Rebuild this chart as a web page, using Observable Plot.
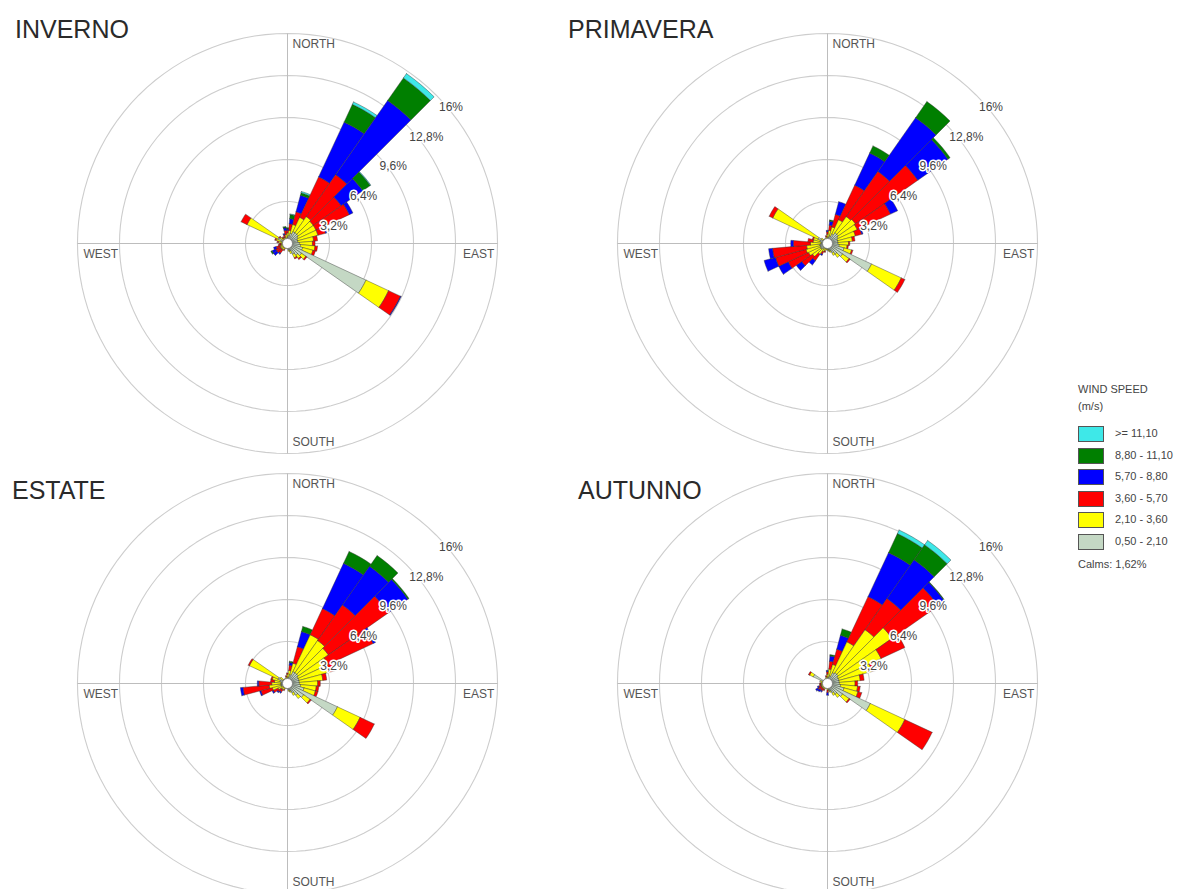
<!DOCTYPE html>
<html>
<head>
<meta charset="utf-8">
<script src="https://cdn.jsdelivr.net/npm/d3@7"></script>
<script src="https://cdn.jsdelivr.net/npm/@observablehq/plot@0.6"></script>
<style>
html, body { margin: 0; padding: 0; background: #fff; overflow: hidden; width: 1188px; height: 889px; }
#page { position: relative; width: 1188px; height: 889px; font-family: "Liberation Sans", Arial, sans-serif; }
.title { position: absolute; font-size: 25px; color: #2a2a2a; line-height: 1; white-space: nowrap; }
.rose { position: absolute; }
.rose svg { overflow: visible; }
#legend { position: absolute; left: 1078px; top: 381px; font-size: 11px; color: #444; }
#legend .hdr { line-height: 17px; }
#legend .row { position: relative; height: 21.6px; }
#legend .sw { position: absolute; left: 0; top: 0; width: 24px; height: 14px; border: 1px solid #555; }
#legend .lab { position: absolute; left: 37px; top: 1px; white-space: nowrap; }
#legend .calm { margin-top: 2px; }
</style>
</head>
<body>
<div id="page"></div>
<script>
// ---- data ----
const directions = d3.range(0, 360, 10);
const speedClasses = ["0,50 - 2,10", "2,10 - 3,60", "3,60 - 5,70", "5,70 - 8,80", "8,80 - 11,10", ">= 11,10"];
const classColors = ["#c4d8c4", "#ffff00", "#ff0000", "#0000ff", "#007f00", "#3ee8e8"];
const ringTicks = [3.2, 6.4, 9.6, 12.8, 16];
const ringLabels = ["3,2%", "6,4%", "9,6%", "12,8%", "16%"];
const compassLabels = ["NORTH", "EAST", "SOUTH", "WEST"];
const calmsLabel = "Calms: 1,62%";
const legendTitle = ["WIND SPEED", "(m/s)"];
const seasonNames = ["INVERNO", "PRIMAVERA", "ESTATE", "AUTUNNO"];

// frequency (%) per direction (0..350 step 10); columns = speed classes (slowest first)
const inverno = [
  [0.5,0.3,0.2,0.1,0.1,0], [0.6,0.4,0.5,0.4,0.3,0.05], [0.8,0.7,1.0,1.3,0.2,0.1], [1.0,1.2,3.4,4.6,1.5,0.2],
  [1.0,1.5,3.9,6.9,2.1,0.4], [1.0,1.4,2.6,2.0,0.7,0.05], [0.9,1.5,2.8,0.3,0,0], [0.8,1.6,0.6,0.1,0,0],
  [0.8,1.2,0.3,0,0,0], [0.9,1.0,0.2,0,0,0], [1.0,1.1,0.2,0,0,0], [1.2,0.8,0.2,0,0,0],
  [6.6,1.9,1.0,0.05,0,0], [1.3,0.4,0.1,0,0,0], [1.1,0.3,0.1,0,0,0], [0.9,0.3,0.1,0,0,0],
  [0.6,0.2,0,0,0,0], [0.5,0.1,0,0,0,0], [0.3,0.1,0,0,0,0], [0.3,0,0,0,0,0],
  [0.3,0.1,0,0,0,0], [0.3,0.2,0.1,0,0,0], [0.3,0.3,0.3,0.1,0,0], [0.3,0.3,0.4,0.3,0,0],
  [0.3,0.3,0.4,0.3,0.1,0], [0.3,0.3,0.3,0.2,0,0], [0.3,0.2,0.2,0,0,0], [0.3,0.2,0.1,0,0,0],
  [0.4,0.3,0.1,0,0,0], [0.5,0.4,0.1,0,0,0], [0.8,2.6,0.5,0,0,0], [0.4,0.3,0.1,0,0,0],
  [0.3,0.2,0.1,0,0,0], [0.3,0.2,0.1,0,0,0], [0.3,0.2,0.2,0.1,0,0], [0.4,0.3,0.3,0.2,0.1,0]
];
const primavera = [
  [0.4,0.3,0.2,0.1,0,0], [0.5,0.5,0.4,0.3,0.1,0], [0.6,0.7,1.0,1.0,0,0], [0.8,1.2,2.9,2.7,0.6,0],
  [1.0,1.5,4.2,5.0,1.5,0], [1.0,1.6,5.8,2.8,0.2,0], [0.9,1.6,2.8,0.6,0,0], [0.8,1.4,0.5,0.1,0,0],
  [0.8,1.1,0.2,0,0,0], [0.8,0.8,0.1,0,0,0], [0.9,0.6,0.1,0,0,0], [1.3,0.6,0.1,0,0,0],
  [3.7,2.5,0.3,0,0,0], [1.4,0.6,0.1,0,0,0], [1.0,0.3,0,0,0,0], [0.8,0.2,0,0,0,0],
  [0.6,0.1,0,0,0,0], [0.5,0.1,0,0,0,0], [0.4,0.1,0,0,0,0], [0.4,0.1,0,0,0,0],
  [0.4,0.2,0.1,0,0,0], [0.4,0.3,0.2,0.1,0,0], [0.5,0.5,0.6,0.4,0,0], [0.6,0.8,1.0,0.5,0,0],
  [0.6,1.0,1.7,0.8,0,0], [0.6,1.1,2.4,0.9,0,0], [0.6,1.0,2.6,0.3,0,0], [0.5,0.8,1.3,0.2,0,0],
  [0.5,0.6,0.4,0,0,0], [0.6,0.5,0.1,0,0,0], [0.8,3.8,0.3,0,0,0], [0.4,0.2,0,0,0,0],
  [0.3,0.1,0,0,0,0], [0.3,0.1,0,0,0,0], [0.3,0.1,0,0,0,0], [0.3,0.2,0.1,0,0,0]
];
const estate = [
  [0.4,0.3,0.1,0,0,0], [0.5,0.5,0.4,0.2,0.1,0], [0.7,0.9,1.3,1.2,0.4,0], [1.0,3.1,2.2,3.8,1.0,0],
  [1.0,3.0,3.3,3.6,1.0,0], [1.0,2.8,5.6,1.8,0.1,0], [0.9,2.5,3.8,0.2,0,0], [0.9,2.4,0.5,0,0,0],
  [0.9,1.8,0.3,0,0,0], [0.9,1.4,0.2,0,0,0], [1.0,1.2,0.2,0,0,0], [1.3,0.9,0.2,0,0,0],
  [4.2,1.9,1.2,0,0,0], [1.5,0.6,0.1,0,0,0], [1.1,0.3,0,0,0,0], [0.8,0.2,0,0,0,0],
  [0.6,0.1,0,0,0,0], [0.5,0.1,0,0,0,0], [0.4,0,0,0,0,0], [0.3,0,0,0,0,0],
  [0.3,0.1,0,0,0,0], [0.3,0.2,0.1,0,0,0], [0.3,0.3,0.2,0.1,0,0], [0.3,0.3,0.3,0.1,0,0],
  [0.4,0.4,0.4,0.1,0,0], [0.5,0.7,0.9,0.1,0,0], [0.5,0.9,2.0,0.2,0,0], [0.5,0.7,1.0,0.1,0,0],
  [0.5,0.5,0.3,0,0,0], [0.6,0.6,0.1,0,0,0], [0.8,2.4,0.1,0,0,0], [0.4,0.3,0,0,0,0],
  [0.3,0.1,0,0,0,0], [0.3,0.1,0,0,0,0], [0.3,0.1,0,0,0,0], [0.3,0.2,0.1,0,0,0]
];
const autunno = [
  [0.4,0.3,0.2,0.1,0,0], [0.5,0.6,0.6,0.4,0.1,0], [0.6,0.9,1.2,1.1,0.5,0], [0.9,2.6,3.8,3.7,1.6,0.3],
  [1.0,4.0,2.9,3.6,1.4,0.4], [1.0,5.0,4.3,0.6,0.05,0], [0.9,3.6,2.0,0,0,0], [0.9,2.6,0.4,0,0,0],
  [0.9,1.6,0.3,0,0,0], [0.9,1.2,0.2,0,0,0], [1.0,1.3,0.2,0,0,0], [1.3,1.1,0.3,0,0,0],
  [3.6,2.9,2.3,0,0,0], [1.4,0.6,0.1,0,0,0], [1.0,0.3,0,0,0,0], [0.8,0.2,0,0,0,0],
  [0.6,0.1,0,0,0,0], [0.5,0.1,0,0,0,0], [0.3,0.2,0.2,0.2,0,0], [0.3,0,0,0,0,0],
  [0.3,0.1,0,0,0,0], [0.3,0.2,0.1,0,0,0], [0.3,0.2,0.2,0.1,0,0], [0.3,0.2,0.2,0.2,0,0],
  [0.3,0.2,0.3,0.2,0,0], [0.3,0.2,0.2,0.1,0,0], [0.3,0.2,0.1,0,0,0], [0.3,0.2,0.1,0,0,0],
  [0.3,0.2,0,0,0,0], [0.4,0.2,0,0,0,0], [1.2,0.3,0.1,0,0,0], [0.3,0.1,0,0,0,0],
  [0.3,0,0,0,0,0], [0.3,0,0,0,0,0], [0.3,0.1,0,0,0,0], [0.3,0.2,0.1,0,0,0]
];
const seasonData = [inverno, primavera, estate, autunno];

// ---- layout ----
const SIZE = 440;               // svg size in px
const HALF = 16.76;             // half extent in % (16% ring = 210 px)
const centers = [[287, 243], [827, 243], [287, 683], [827, 683]];
const titlePos = [[15, 17], [568, 17], [12, 478], [578, 478]];

const rad = a => a * Math.PI / 180;
const polar = (r, a) => ({x: r * Math.sin(rad(a)), y: r * Math.cos(rad(a))});

function wedgePoints(rows) {
  const pts = [];
  rows.forEach((row, i) => {
    const dir = directions[i];
    let r0 = 0;
    row.forEach((v, k) => {
      if (!(v > 0)) return;
      const r1 = r0 + v;
      const id = dir + "-" + k;
      const n = 4, a0 = dir - 5, a1 = dir + 5;
      const poly = [];
      for (let j = 0; j <= n; j++) poly.push([r1, a0 + (a1 - a0) * j / n]);
      for (let j = n; j >= 0; j--) poly.push([r0, a0 + (a1 - a0) * j / n]);
      poly.push(poly[0]);
      for (const [r, a] of poly) pts.push({id, cls: speedClasses[k], ...polar(r, a)});
      r0 = r1;
    });
  });
  return pts;
}

const ringPoints = ringTicks.flatMap(t => d3.range(0, 361, 3).map(a => ({ring: t, ...polar(t, a)})));
const axisLines = [{x1: -16, y1: 0, x2: 16, y2: 0}, {x1: 0, y1: -16, x2: 0, y2: 16}];
const ringText = ringTicks.map((t, i) => ({...polar(t, 45), label: ringLabels[i]}));

const page = document.getElementById("page");

seasonData.forEach((rows, s) => {
  const chart = Plot.plot({
    width: SIZE, height: SIZE, margin: 0,
    x: {domain: [-HALF, HALF], axis: null},
    y: {domain: [-HALF, HALF], axis: null},
    color: {domain: speedClasses, range: classColors},
    style: {background: "transparent", fontFamily: "'Liberation Sans', Arial, sans-serif", overflow: "visible"},
    marks: [
      Plot.line(ringPoints, {x: "x", y: "y", z: "ring", stroke: "#cdcdcd", strokeWidth: 1.1}),
      Plot.link(axisLines, {x1: "x1", y1: "y1", x2: "x2", y2: "y2", stroke: "#bdbdbd", strokeWidth: 1}),
      Plot.text([{x: 0, y: 15.16, t: compassLabels[0]}, {x: 0, y: -15.1, t: compassLabels[2]}],
        {x: "x", y: "y", text: "t", textAnchor: "start", dx: 5, fontSize: 12, fill: "#555"}),
      Plot.text([{x: -15.55, y: 0, t: compassLabels[3]}],
        {x: "x", y: "y", text: "t", textAnchor: "start", dy: 11, fontSize: 12, fill: "#555"}),
      Plot.text([{x: 15.75, y: 0, t: compassLabels[1]}],
        {x: "x", y: "y", text: "t", textAnchor: "end", dy: 11, fontSize: 12, fill: "#555"}),
      Plot.line(wedgePoints(rows), {x: "x", y: "y", z: "id", fill: "cls", stroke: "#333", strokeWidth: 0.6, strokeOpacity: 0.7}),
      Plot.dot([{x: 0, y: 0}], {x: "x", y: "y", r: 5, fill: "white", stroke: "#777", strokeWidth: 0.8}),
      Plot.text(ringText, {x: "x", y: "y", text: "label", textAnchor: "start", dx: 3, dy: 12, fontSize: 12,
        fill: "#444", stroke: "white", strokeWidth: 3})
    ]
  });
  const wrap = document.createElement("div");
  wrap.className = "rose";
  wrap.style.left = (centers[s][0] - SIZE / 2) + "px";
  wrap.style.top = (centers[s][1] - SIZE / 2) + "px";
  wrap.appendChild(chart);
  page.appendChild(wrap);

  const t = document.createElement("div");
  t.className = "title";
  t.textContent = seasonNames[s];
  t.style.left = titlePos[s][0] + "px";
  t.style.top = titlePos[s][1] + "px";
  page.appendChild(t);
});

// legend
const legend = document.createElement("div");
legend.id = "legend";
legend.innerHTML = legendTitle.map(l => `<div class="hdr">${l}</div>`).join("") + `<div style="height:11px"></div>`;
speedClasses.slice().reverse().forEach((c, i) => {
  const k = speedClasses.length - 1 - i;
  const row = document.createElement("div");
  row.className = "row";
  row.innerHTML = `<div class="sw" style="background:${classColors[k]}"></div><div class="lab">${c}</div>`;
  legend.appendChild(row);
});
const calm = document.createElement("div");
calm.className = "calm";
calm.textContent = calmsLabel;
legend.appendChild(calm);
page.appendChild(legend);
</script>
</body>
</html>
